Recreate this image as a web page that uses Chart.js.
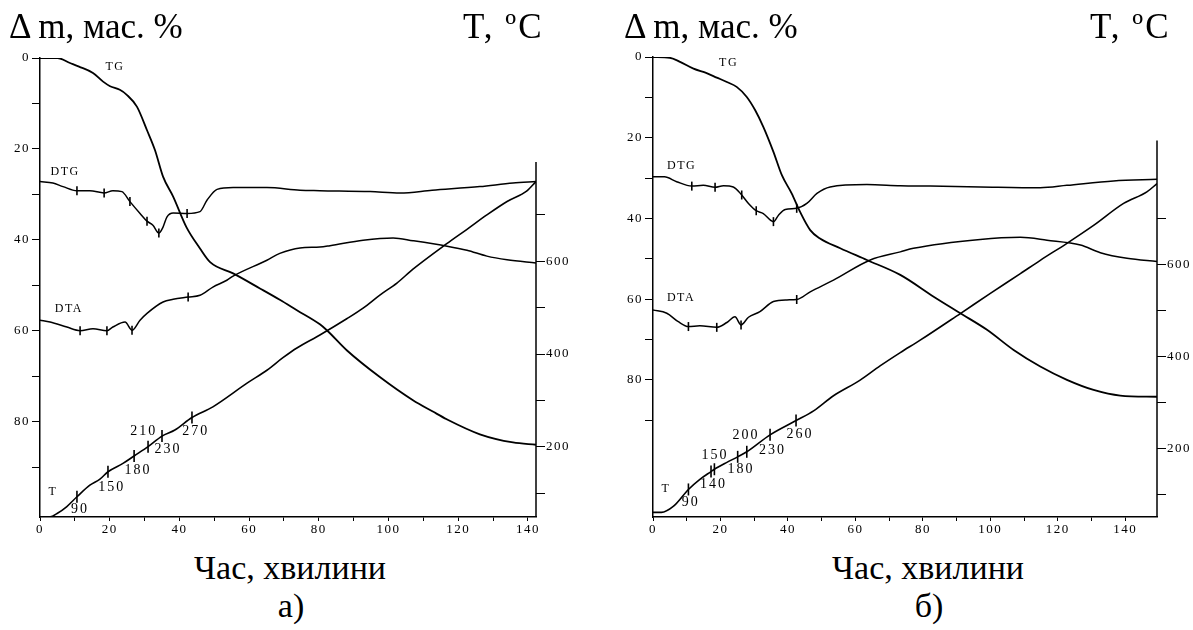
<!DOCTYPE html>
<html>
<head>
<meta charset="utf-8">
<script src="https://cdn.jsdelivr.net/npm/chart.js@4.4.0/dist/chart.umd.min.js"></script>
<style>
  body { margin: 0; background: #fff; width: 1193px; height: 630px; position: relative; overflow: hidden; font-family: "Liberation Serif", serif; }
  canvas { position: absolute; top: 0; }
  #ca { left: 0; }
  #cb { left: 596px; }
  .t { position: absolute; font-size: 34px; line-height: 1; white-space: nowrap; color: #000; }
  .h { font-size: 35px; }
  .c { transform: translateX(-50%); }
  .u { letter-spacing: 2px; }
</style>
</head>
<body>
<canvas id="ca" width="596" height="540"></canvas>
<canvas id="cb" width="597" height="540"></canvas>
<div class="t h" style="left:9px;top:9px">Δ m, мас. %</div>
<div class="t h u" style="left:463px;top:9px">T, ºC</div>
<div class="t h" style="left:624px;top:9px">Δ m, мас. %</div>
<div class="t h u" style="left:1090px;top:9px">T, ºC</div>
<div class="t c" style="left:290px;top:551px">Час, хвилини</div>
<div class="t c" style="left:291px;top:589px">а)</div>
<div class="t c" style="left:928px;top:551px">Час, хвилини</div>
<div class="t c" style="left:929px;top:589px">б)</div>
<script>
// axis ticks
const timeTicks = [0, 10, 20, 30, 40, 50, 60, 70, 80, 90, 100, 110, 120, 130, 140];
const timeLabels = [0, 20, 40, 60, 80, 100, 120, 140];
const massTicks = [0, 10, 20, 30, 40, 50, 60, 70, 80, 90];
const massLabels = [0, 20, 40, 60, 80];
const tempTicks = [100, 200, 300, 400, 500, 600, 700];
const tempLabels = [200, 400, 600];

// ---- panel a ----
const tgA_t = [0, 5.0, 8.6, 11.2, 15.2, 18.1, 20.1, 22.9, 24.9, 27.8, 30.7, 33.0, 35.3, 38.2, 42.0, 45.9, 48.8, 55.4, 63.1, 68.8, 73.7, 80.3, 82.3, 88.0, 97.5, 107.0, 112.7, 116.7, 126.2, 135.7, 142.3];
const tgA = [0, 0, 1.1, 1.9, 3.3, 5.2, 6.2, 7.0, 8.1, 10.7, 15.9, 20.3, 26.1, 30.5, 37.2, 41.9, 44.9, 47.4, 50.7, 53.2, 55.5, 58.6, 59.9, 64.3, 70.2, 75.3, 77.8, 79.5, 82.8, 84.6, 85.1];

const dtgA_t = [0, 3.7, 6.6, 10.6, 14.3, 18.4, 20.9, 23.5, 25.8, 28.7, 30.7, 32.4, 34.1, 35.3, 36.4, 38.2, 42.2, 45.9, 47.9, 50.8, 55.4, 65.1, 74.6, 80.3, 94.7, 103.3, 112.5, 126.2, 135.7, 142.3];
const dtgA = [27.2, 27.5, 28.3, 29.2, 29.2, 29.7, 29.2, 29.4, 31.6, 34.2, 35.9, 36.8, 38.5, 37.2, 35.0, 34.1, 34.2, 33.8, 31.3, 28.9, 28.5, 28.5, 29.1, 29.2, 29.4, 29.7, 29.1, 28.3, 27.5, 27.2];

const dtaA_t = [0, 2.9, 7.7, 11.5, 15.2, 19.2, 20.9, 24.4, 26.4, 28.7, 30.7, 35.3, 38.2, 42.5, 45.9, 49.6, 53.6, 55.4, 65.1, 68.8, 74.6, 80.3, 83.2, 92.7, 101.3, 107.0, 116.8, 122.5, 128.2, 134.0, 142.3];
const dtaA = [57.7, 58.1, 59.2, 60.0, 59.6, 60.0, 59.2, 58.1, 59.9, 57.7, 56.2, 53.7, 53.1, 52.6, 52.2, 50.4, 48.9, 48.0, 44.5, 43.0, 41.8, 41.6, 41.3, 40.1, 39.6, 40.2, 41.4, 42.3, 43.6, 44.4, 45.1];

const tA_t = [0, 2.9, 4.9, 7.7, 10.6, 14.3, 17.2, 19.5, 23.8, 27.0, 31.0, 35.0, 38.7, 43.6, 49.6, 59.4, 65.1, 69.7, 73.7, 80.3, 88.0, 92.7, 97.5, 102.4, 107.0, 116.7, 122.5, 128.2, 134.0, 139.7, 142.3];
const tA = [49, 49, 56, 71, 92, 117, 130, 146, 164, 180, 200, 223, 236, 263, 286, 337, 365, 392, 413, 441, 476, 499, 527, 553, 583, 638, 669, 700, 729, 752, 772];

const dtgMarkA_t = [10.6, 18.4, 25.8, 30.7, 34.1, 42.2];
const dtgMarkA = [29.2, 29.7, 31.6, 35.9, 38.5, 34.2];
const dtaMarkA_t = [11.5, 19.2, 26.4, 42.5];
const dtaMarkA = [60.0, 60.0, 59.9, 52.6];
const tMarkA_t = [10.6, 19.5, 27.0, 31.0, 35.0, 43.6];
const tMarkA = [92, 146, 180, 200, 223, 263];

const tLabelA = ['90', '150', '180', '230', '210', '270'];
const tLabelA_t = [11.5, 20.6, 28.1, 36.7, 29.8, 44.7];
const tLabelA_T = [66, 113, 148, 195, 234, 234];

// ---- panel b ----
const tgB_t = [0, 5.0, 8.0, 12.0, 15.9, 18.9, 21.9, 24.8, 27.8, 30.3, 32.7, 35.7, 38.2, 41.1, 43.6, 46.6, 49.5, 55.5, 63.4, 73.3, 83.2, 91.1, 99.0, 106.9, 114.8, 122.7, 130.6, 138.5, 149.4];
const tgB = [0, 0.2, 1.2, 2.9, 4.0, 5.1, 6.2, 7.4, 9.9, 13.2, 17.3, 23.5, 29.3, 33.8, 38.4, 42.9, 45.0, 47.4, 50.3, 54.0, 59.4, 63.5, 67.6, 72.6, 76.7, 80.0, 82.5, 83.9, 84.2];

const dtgB_t = [0, 3.4, 7.0, 11.5, 14.9, 18.4, 20.9, 23.8, 26.3, 28.3, 30.6, 32.7, 35.7, 37.2, 39.2, 42.6, 45.6, 48.6, 52.5, 63.4, 73.3, 82.2, 97.0, 114.8, 122.7, 136.5, 149.4];
const dtgB = [29.7, 29.7, 30.9, 32.0, 31.8, 32.3, 31.9, 32.2, 34.2, 36.3, 38.1, 38.8, 40.8, 39.2, 37.8, 37.5, 36.3, 33.8, 32.2, 31.6, 31.9, 32.0, 32.2, 32.4, 31.8, 30.7, 30.3];

const dtaB_t = [0, 4.1, 7.5, 10.5, 13.9, 18.9, 21.9, 24.3, 26.1, 28.3, 31.7, 35.7, 39.7, 42.6, 46.6, 53.5, 64.4, 73.3, 77.2, 97.0, 108.9, 116.8, 126.7, 132.6, 140.5, 149.4];
const dtaB = [62.7, 63.5, 65.6, 66.8, 66.6, 67.0, 65.8, 64.4, 66.4, 64.5, 63.1, 60.6, 60.2, 60.1, 58.2, 55.3, 50.3, 48.3, 47.4, 45.2, 44.7, 45.4, 46.6, 48.5, 49.9, 50.7];

const tB_t = [0, 2.5, 6.0, 10.5, 13.9, 17.2, 18.2, 21.9, 25.1, 27.8, 34.7, 42.4, 47.6, 53.5, 61.4, 67.3, 73.3, 79.2, 91.1, 100.0, 108.9, 114.8, 122.7, 130.6, 139.5, 146.4, 149.4];
const tB = [61, 61, 74, 111, 133, 150, 155, 170, 182, 193, 230, 261, 282, 315, 349, 380, 409, 436, 494, 538, 581, 610, 647, 686, 734, 759, 777];

const dtgMarkB_t = [11.5, 18.4, 26.3, 30.6, 35.7, 42.6];
const dtgMarkB = [32.0, 32.3, 34.2, 38.1, 40.8, 37.5];
const dtaMarkB_t = [10.5, 18.9, 26.1, 42.6];
const dtaMarkB = [66.8, 67.0, 66.4, 60.1];
const tMarkB_t = [10.5, 17.2, 18.2, 25.1, 27.8, 34.7, 42.4];
const tMarkB = [111, 150, 155, 182, 193, 230, 261];

const tLabelB = ['90', '140', '150', '180', '230', '200', '260'];
const tLabelB_t = [11.2, 17.9, 18.4, 26.1, 35.4, 27.6, 43.6];
const tLabelB_T = [82, 123, 186, 155, 197, 228, 231];

// curve names: [text, time, mass-axis position]
const namesA = [['TG', 21.5, 2.0], ['DTG', 7.2, 25.1], ['DTA', 8.3, 55.1], ['T', 3.7, 95.4]];
const namesB = [['TG', 22.4, 1.5], ['DTG', 8.5, 27.0], ['DTA', 8.3, 59.8], ['T', 3.8, 107.1]];

const FONT = '"Liberation Serif", "Times New Roman", serif';

function pts(xs, ys) {
    return xs.map((x, i) => ({ x: x, y: ys[i] }));
}

function curve(xs, ys, axis, w) {
    return {
        data: pts(xs, ys), yAxisID: axis,
        borderColor: '#000', borderWidth: w, pointRadius: 0,
        fill: false, cubicInterpolationMode: 'monotone'
    };
}

function marks(xs, ys, axis, r) {
    return {
        data: pts(xs, ys), yAxisID: axis, showLine: false,
        pointStyle: 'line', pointRotation: 90, pointRadius: r, pointHoverRadius: r,
        pointBorderColor: '#000', pointBorderWidth: 1.6
    };
}

// labels on the curves + the short right axis line
const textPlugin = {
    id: 'texts',
    beforeDraw(chart) {
        chart.ctx.letterSpacing = '1.5px';
    },
    afterDatasetsDraw(chart, args, opts) {
        const ctx = chart.ctx;
        const x = chart.scales.x, y = chart.scales.y, yR = chart.scales.yR;
        const area = chart.chartArea;
        ctx.save();
        ctx.fillStyle = '#000';
        ctx.textAlign = 'center';
        ctx.textBaseline = 'middle';
        ctx.letterSpacing = '1.5px';
        ctx.font = '12px ' + FONT;
        opts.names.forEach(n => ctx.fillText(n[0], x.getPixelForValue(n[1]), y.getPixelForValue(n[2])));
        ctx.letterSpacing = '2px';
        ctx.font = '14px ' + FONT;
        opts.labels.forEach((s, i) => ctx.fillText(s, x.getPixelForValue(opts.labelT[i]), yR.getPixelForValue(opts.labelV[i])));
        ctx.strokeStyle = '#000';
        ctx.lineWidth = 1.5;
        ctx.beginPath();
        ctx.moveTo(area.right, area.bottom);
        ctx.lineTo(area.right, yR.getPixelForValue(opts.axisTop));
        ctx.stroke();
        ctx.restore();
    }
};

function makeChart(id, p) {
    const tickFont = { family: FONT, size: 13 };
    const grid = { drawOnChartArea: false, drawTicks: true, color: '#000', lineWidth: 1 };
    return new Chart(document.getElementById(id), {
        type: 'line',
        data: {
            datasets: [
                curve(p.tg[0], p.tg[1], 'y', 1.8),
                curve(p.dtg[0], p.dtg[1], 'y', 1.5),
                curve(p.dta[0], p.dta[1], 'y', 1.5),
                curve(p.t[0], p.t[1], 'yR', 1.6),
                marks(p.dtgM[0], p.dtgM[1], 'y', 4.5),
                marks(p.dtaM[0], p.dtaM[1], 'y', 4.5),
                marks(p.tM[0], p.tM[1], 'yR', 6)
            ]
        },
        options: {
            responsive: false,
            animation: false,
            devicePixelRatio: 1,
            layout: { padding: { top: p.top, left: 0, right: 0, bottom: 0 } },
            plugins: {
                legend: { display: false },
                tooltip: { enabled: false },
                texts: { names: p.names, labels: p.labels[0], labelT: p.labels[1], labelV: p.labels[2], axisTop: p.axisTop }
            },
            scales: {
                x: {
                    type: 'linear', min: 0, max: p.xMax,
                    afterBuildTicks: s => { s.ticks = timeTicks.map(v => ({ value: v })); },
                    afterFit: s => { s.height = 23; },
                    border: { display: true, color: '#000', width: 1.5 },
                    grid: Object.assign({}, grid, { tickLength: 4 }),
                    ticks: { font: tickFont, color: '#000', padding: 1, maxRotation: 0, autoSkip: false,
                        callback: v => timeLabels.includes(v) ? String(v) : '' }
                },
                y: {
                    type: 'linear', position: 'left', reverse: true, min: 0, max: p.yMax,
                    afterBuildTicks: s => { s.ticks = massTicks.map(v => ({ value: v })); },
                    afterFit: s => { s.width = p.leftW; },
                    border: { display: true, color: '#000', width: 1.5 },
                    grid: Object.assign({}, grid, { tickLength: 8 }),
                    ticks: { font: tickFont, color: '#000', padding: 2, autoSkip: false,
                        callback: v => massLabels.includes(v) ? String(v) : '' }
                },
                yR: {
                    type: 'linear', position: 'right', min: p.rMin, max: p.rMax,
                    afterBuildTicks: s => { s.ticks = tempTicks.map(v => ({ value: v })); },
                    afterFit: s => { s.width = p.rightW; },
                    border: { display: false },
                    grid: Object.assign({}, grid, { tickLength: 9 }),
                    ticks: { font: tickFont, color: '#000', padding: 1, autoSkip: false,
                        callback: v => tempLabels.includes(v) ? String(v) : '' }
                }
            }
        },
        plugins: [textPlugin]
    });
}

makeChart('ca', {
    tg: [tgA_t, tgA], dtg: [dtgA_t, dtgA], dta: [dtaA_t, dtaA], t: [tA_t, tA],
    dtgM: [dtgMarkA_t, dtgMarkA], dtaM: [dtaMarkA_t, dtaMarkA], tM: [tMarkA_t, tMarkA],
    labels: [tLabelA, tLabelA_t, tLabelA_T], names: namesA,
    xMax: 142.3, yMax: 101, rMin: 48.4, rMax: 1038.5, axisTop: 814,
    top: 58, leftW: 40, rightW: 60
});

makeChart('cb', {
    tg: [tgB_t, tgB], dtg: [dtgB_t, dtgB], dta: [dtaB_t, dtaB], t: [tB_t, tB],
    dtgM: [dtgMarkB_t, dtgMarkB], dtaM: [dtaMarkB_t, dtaMarkB], tM: [tMarkB_t, tMarkB],
    labels: [tLabelB, tLabelB_t, tLabelB_T], names: namesB,
    xMax: 149.4, yMax: 114, rMin: 51, rMax: 1052.7, axisTop: 871,
    top: 57, leftW: 57, rightW: 36
});
</script>
</body>
</html>
